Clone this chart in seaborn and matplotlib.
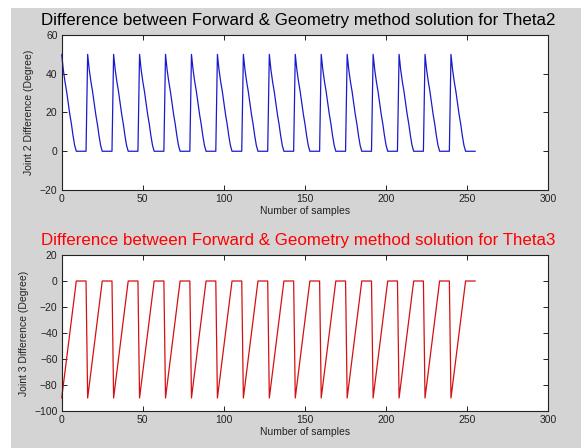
import matplotlib
matplotlib.use("Agg")
import matplotlib.pyplot as plt
from matplotlib.patches import Rectangle
import numpy as np
import pandas as pd
import seaborn as sns

# ---------------- data ----------------
samples = list(range(256))

theta2_diff = [
    50, 42, 36, 31, 25, 19, 14, 8, 3, 0, 0, 0, 0, 0, 0, 0,
    50, 42, 36, 31, 25, 19, 14, 8, 3, 0, 0, 0, 0, 0, 0, 0,
    50, 42, 36, 31, 25, 19, 14, 8, 3, 0, 0, 0, 0, 0, 0, 0,
    50, 42, 36, 31, 25, 19, 14, 8, 3, 0, 0, 0, 0, 0, 0, 0,
    50, 42, 36, 31, 25, 19, 14, 8, 3, 0, 0, 0, 0, 0, 0, 0,
    50, 42, 36, 31, 25, 19, 14, 8, 3, 0, 0, 0, 0, 0, 0, 0,
    50, 42, 36, 31, 25, 19, 14, 8, 3, 0, 0, 0, 0, 0, 0, 0,
    50, 42, 36, 31, 25, 19, 14, 8, 3, 0, 0, 0, 0, 0, 0, 0,
    50, 42, 36, 31, 25, 19, 14, 8, 3, 0, 0, 0, 0, 0, 0, 0,
    50, 42, 36, 31, 25, 19, 14, 8, 3, 0, 0, 0, 0, 0, 0, 0,
    50, 42, 36, 31, 25, 19, 14, 8, 3, 0, 0, 0, 0, 0, 0, 0,
    50, 42, 36, 31, 25, 19, 14, 8, 3, 0, 0, 0, 0, 0, 0, 0,
    50, 42, 36, 31, 25, 19, 14, 8, 3, 0, 0, 0, 0, 0, 0, 0,
    50, 42, 36, 31, 25, 19, 14, 8, 3, 0, 0, 0, 0, 0, 0, 0,
    50, 42, 36, 31, 25, 19, 14, 8, 3, 0, 0, 0, 0, 0, 0, 0,
    50, 42, 36, 31, 25, 19, 14, 8, 3, 0, 0, 0, 0, 0, 0, 0,
]

theta3_diff = [
    -90, -80, -70, -60, -50, -40, -30, -20, -10, 0, 0, 0, 0, 0, 0, 0,
    -90, -80, -70, -60, -50, -40, -30, -20, -10, 0, 0, 0, 0, 0, 0, 0,
    -90, -80, -70, -60, -50, -40, -30, -20, -10, 0, 0, 0, 0, 0, 0, 0,
    -90, -80, -70, -60, -50, -40, -30, -20, -10, 0, 0, 0, 0, 0, 0, 0,
    -90, -80, -70, -60, -50, -40, -30, -20, -10, 0, 0, 0, 0, 0, 0, 0,
    -90, -80, -70, -60, -50, -40, -30, -20, -10, 0, 0, 0, 0, 0, 0, 0,
    -90, -80, -70, -60, -50, -40, -30, -20, -10, 0, 0, 0, 0, 0, 0, 0,
    -90, -80, -70, -60, -50, -40, -30, -20, -10, 0, 0, 0, 0, 0, 0, 0,
    -90, -80, -70, -60, -50, -40, -30, -20, -10, 0, 0, 0, 0, 0, 0, 0,
    -90, -80, -70, -60, -50, -40, -30, -20, -10, 0, 0, 0, 0, 0, 0, 0,
    -90, -80, -70, -60, -50, -40, -30, -20, -10, 0, 0, 0, 0, 0, 0, 0,
    -90, -80, -70, -60, -50, -40, -30, -20, -10, 0, 0, 0, 0, 0, 0, 0,
    -90, -80, -70, -60, -50, -40, -30, -20, -10, 0, 0, 0, 0, 0, 0, 0,
    -90, -80, -70, -60, -50, -40, -30, -20, -10, 0, 0, 0, 0, 0, 0, 0,
    -90, -80, -70, -60, -50, -40, -30, -20, -10, 0, 0, 0, 0, 0, 0, 0,
    -90, -80, -70, -60, -50, -40, -30, -20, -10, 0, 0, 0, 0, 0, 0, 0,
]

x_ticks = [0, 50, 100, 150, 200, 250, 300]
y2_ticks = [-20, 0, 20, 40, 60]
y3_ticks = [-100, -80, -60, -40, -20, 0, 20]

title2 = "Difference between Forward & Geometry method solution for Theta2"
title3 = "Difference between Forward & Geometry method solution for Theta3"
xlabel = "Number of samples"
ylabel2 = "Joint 2 Difference (Degree)"
ylabel3 = "Joint 3 Difference (Degree)"

# ---------------- style ----------------
sns.set_style("white")
plt.rcParams["font.family"] = ["Liberation Sans", "DejaVu Sans"]

W, H = 581, 448
fig = plt.figure(figsize=(W / 100, H / 100), dpi=100, facecolor="white")
fig.patches.append(Rectangle((11 / W, 0), 1 - 11 / W, 1 - 8 / H,
                             transform=fig.transFigure, facecolor="#d4d4d4",
                             edgecolor="none", zorder=-10))

def fx(px):
    return px / W

def fy(py):
    return 1 - py / H

left, right = 61.7, 548.3
ax1 = fig.add_axes([fx(left), fy(190), fx(right) - fx(left), fy(35) - fy(190)])
ax2 = fig.add_axes([fx(left), fy(411), fx(right) - fx(left), fy(255) - fy(411)])

df2 = pd.DataFrame({"sample": samples, "diff": theta2_diff})
df3 = pd.DataFrame({"sample": samples, "diff": theta3_diff})

sns.lineplot(data=df2, x="sample", y="diff", ax=ax1, color="#1a1acc", linewidth=0.9)
sns.lineplot(data=df3, x="sample", y="diff", ax=ax2, color="#d41010", linewidth=0.9)
for ax in (ax1, ax2):
    for ln in ax.lines:
        ln.set_clip_on(False)

for ax, yt, ylab in [(ax1, y2_ticks, ylabel2), (ax2, y3_ticks, ylabel3)]:
    ax.set_facecolor("white")
    ax.set_xlim(0, 300)
    ax.set_ylim(yt[0], yt[-1])
    ax.set_xticks(x_ticks)
    ax.set_yticks(yt)
    ax.tick_params(direction="in", length=3.6, width=0.7, colors="#222222",
                   labelsize=7.5, labelcolor="#222222", pad=3,
                   top=True, right=True, bottom=True, left=True)
    for s in ax.spines.values():
        s.set_visible(True)
        s.set_color("#222222")
        s.set_linewidth(0.8)
    ax.set_xlabel(xlabel, fontsize=7.5, color="#222222", labelpad=1.5)
    ax.set_ylabel(ylab, fontsize=7.5, color="#222222", labelpad=4)

fig.text(fx(298.5), fy(21), title2, ha="center", va="center", fontsize=12.2, color="black")
fig.text(fx(298.5), fy(240), title3, ha="center", va="center", fontsize=12.2, color="#ff0000")

fig.savefig("out.png", dpi=100, facecolor=fig.get_facecolor())
